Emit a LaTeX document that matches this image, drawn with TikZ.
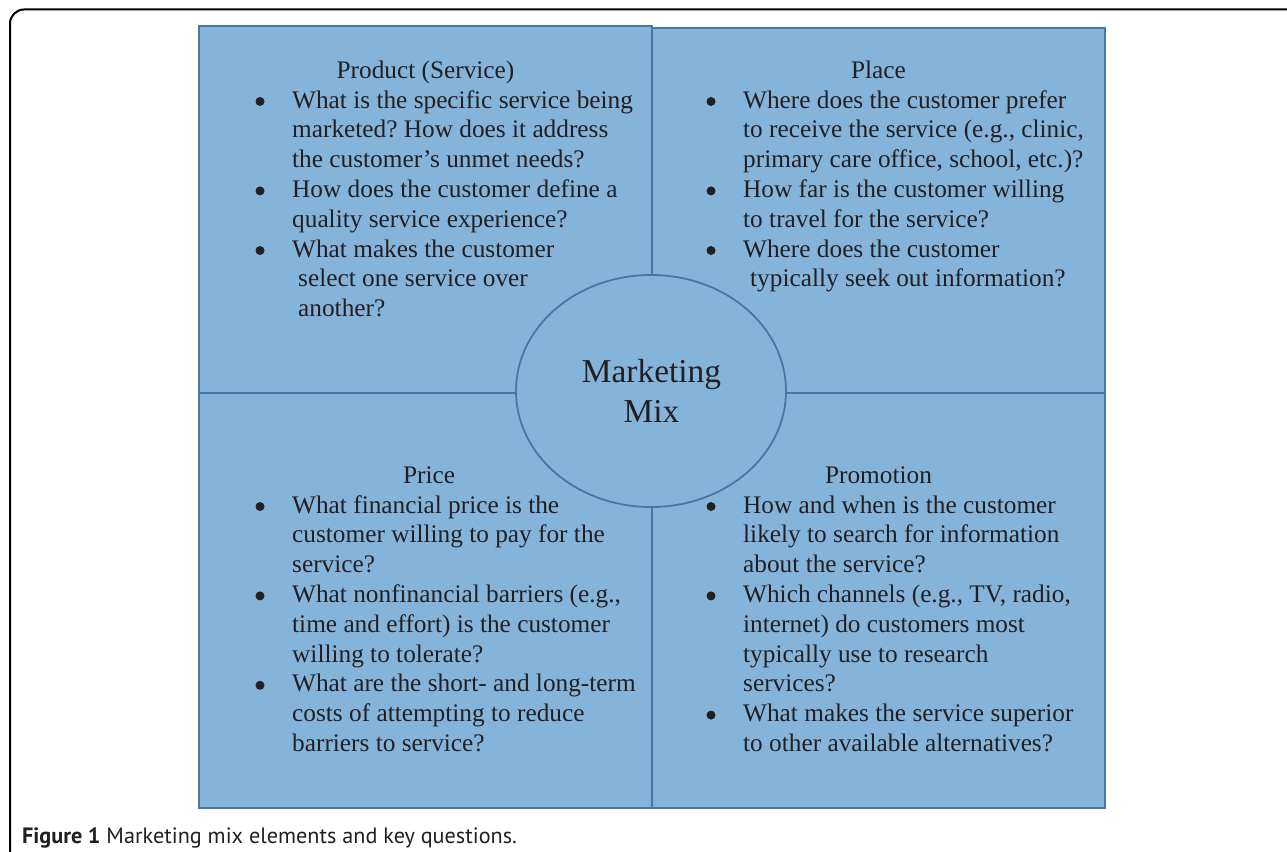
\documentclass[tikz,border=0pt]{standalone}
\usepackage{fontspec}
\setmainfont{Liberation Serif}
\newfontfamily\capfont{PT Sans}
\definecolor{boxfill}{RGB}{133,180,219}
\definecolor{boxline}{RGB}{72,118,166}
\definecolor{ink}{RGB}{35,31,32}
\frenchspacing
% lines of one question, baseline on the first line
\newcommand\qlines[1]{\begin{tabular}[t]{@{}l@{}}#1\end{tabular}}
\begin{document}
\begin{tikzpicture}[x=1pt,y=-1pt,
    quad/.style={draw=boxline,fill=boxfill,line width=1.8pt},
    txt/.style={inner sep=0pt,text=ink,font=\fontsize{25.3}{29.8}\selectfont},
    head/.style={txt,anchor=base},
    item/.style={txt,anchor=base west},
    dot/.style={circle,fill=ink,inner sep=0pt,minimum size=9pt}]
  \useasboundingbox (0,0) rectangle (1287,851);
  \clip (0,0) rectangle (1287,851);
  %% outer frame
  \draw[line width=2pt,rounded corners=14pt] (10,9.5) rectangle (1320,880);
  %% the four quarters
  \draw[quad] (199,26) rectangle (652,393);
  \draw[quad] (652,28) rectangle (1105,393);
  \draw[quad] (199,393) rectangle (652,808);
  \draw[quad] (652,393) rectangle (1105,808);
  \draw[quad] (651,391) ellipse (135 and 116);
  \node[txt,align=center,font=\fontsize{33.4}{40}\selectfont,anchor=base] (mix) at (651.5,422)
    {Marketing\\Mix};
  %% product
  \node[head] (prodh) at (425.5,78) {Product (Service)};
  \node[dot] (pd1) at (260,101.5) {};
  \node[item] (pq1) at (292,108) {\qlines{What is the specific service being\\marketed? How does it address\\the customer’s unmet needs?}};
  \node[dot] (pd2) at (260,190.9) {};
  \node[item] (pq2) at (292,197.4) {\qlines{How does the customer define a\\quality service experience?}};
  \node[dot] (pd3) at (260,250.5) {};
  \node[item] (pq3) at (292,257) {\qlines{What makes the customer\\\hspace*{6pt}select one service over\\\hspace*{6pt}another?}};
  %% place
  \node[head] (plah) at (878.5,78) {Place};
  \node[dot] (ld1) at (711,101.5) {};
  \node[item] (lq1) at (743,108) {\qlines{Where does the customer prefer\\to receive the service (e.g., clinic,\\primary care office, school, etc.)?}};
  \node[dot] (ld2) at (711,190.9) {};
  \node[item] (lq2) at (743,197.4) {\qlines{How far is the customer willing\\to travel for the service?}};
  \node[dot] (ld3) at (711,250.5) {};
  \node[item] (lq3) at (743,257) {\qlines{Where does the customer\\\hspace*{7pt}typically seek out information?}};
  %% price
  \node[head] (prih) at (429,483) {Price};
  \node[dot] (rd1) at (260,506.5) {};
  \node[item] (rq1) at (292,513) {\qlines{What financial price is the\\customer willing to pay for the\\service?}};
  \node[dot] (rd2) at (260,595.9) {};
  \node[item] (rq2) at (292,602.4) {\qlines{What nonfinancial barriers (e.g.,\\time and effort) is the customer\\willing to tolerate?}};
  \node[dot] (rd3) at (260,685.3) {};
  \node[item] (rq3) at (292,691.8) {\qlines{What are the short- and long-term\\costs of attempting to reduce\\barriers to service?}};
  %% promotion
  \node[head] (proh) at (878.5,483) {Promotion};
  \node[dot] (md1) at (711,506.5) {};
  \node[item] (mq1) at (743,513) {\qlines{How and when is the customer\\likely to search for information\\about the service?}};
  \node[dot] (md2) at (711,595.9) {};
  \node[item] (mq2) at (743,602.4) {\qlines{Which channels (e.g., TV, radio,\\internet) do customers most\\typically use to research\\services?}};
  \node[dot] (md3) at (711,715.1) {};
  \node[item] (mq3) at (743,721.6) {\qlines{What makes the service superior\\to other available alternatives?}};
  %% caption
  \node[inner sep=0pt,anchor=base west,text=ink,font=\capfont\fontsize{22.2}{26}\selectfont] (cap) at (22,843)
    {\textbf{Figure 1} Marketing mix elements and key questions.};
\end{tikzpicture}
\end{document}
